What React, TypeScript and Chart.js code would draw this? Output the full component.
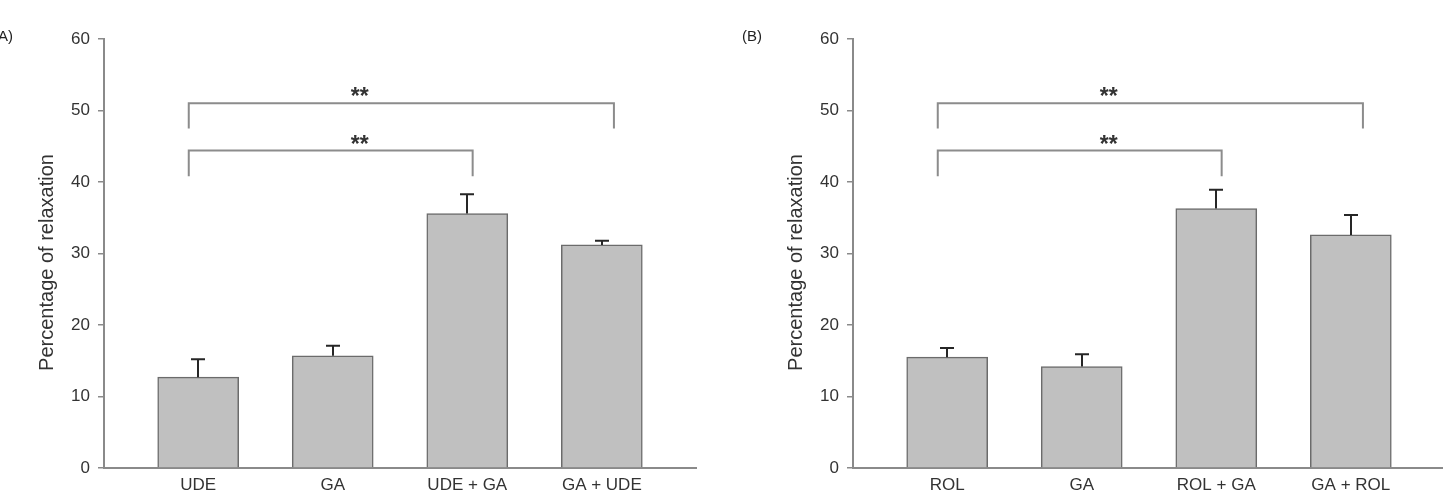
import React, { useEffect, useRef } from "react";
import { Chart, registerables } from "chart.js";

Chart.register(...registerables);

// Panel (A): umbilical-derived extract (UDE) and glycyrrhetinic acid (GA)
const labelsA = ["UDE", "GA", "UDE + GA", "GA + UDE"];
const meansA = [12.7, 15.7, 35.6, 31.2];
const semA = [2.5, 1.4, 2.7, 0.6];

// Panel (B): rolipram (ROL) and GA
const labelsB = ["ROL", "GA", "ROL + GA", "GA + ROL"];
const meansB = [15.5, 14.2, 36.3, 32.6];
const semB = [1.3, 1.7, 2.6, 2.8];

// Significance brackets, in x-axis units (category index) and y-axis values
const bracketFrom = [-0.07, -0.07];
const bracketTo = [3.09, 2.04];
const bracketLevel = [51.0, 44.4];
const bracketFoot = [47.5, 40.8];
const starLevel = [52.6, 46.0];
const starPos = [1.2, 1.2];
const starText = ["**", "**"];

const yMin = 0;
const yMax = 60;
const yStep = 10;
const yTitle = "Percentage of relaxation";

const FONT = "'Liberation Sans', Arial, sans-serif";
const W = 749;
const H = 496;

type PanelOpts = {
  means: number[];
  sem: number[];
  panel: string;
};

const overlayPlugin = {
  id: "overlay",
  afterDatasetsDraw(chart: any, _args: any, opts: PanelOpts) {
    const { ctx, chartArea } = chart;
    const xs = chart.scales.x;
    const ys = chart.scales.y;
    const meta = chart.getDatasetMeta(0);
    ctx.save();

    // error bars (upper half only)
    ctx.strokeStyle = "#262626";
    ctx.lineWidth = 2;
    meta.data.forEach((bar: any, i: number) => {
      const v = opts.means[i];
      const e = opts.sem[i];
      const px = Math.round(bar.x);
      const y0 = ys.getPixelForValue(v);
      const y1 = ys.getPixelForValue(v + e);
      ctx.beginPath();
      ctx.moveTo(px, y0);
      ctx.lineTo(px, y1);
      ctx.moveTo(px - 7, y1);
      ctx.lineTo(px + 7, y1);
      ctx.stroke();
    });

    // significance brackets
    ctx.strokeStyle = "#8c8c8c";
    ctx.lineWidth = 2;
    bracketFrom.forEach((from, i) => {
      const x0 = xs.getPixelForValue(from);
      const x1 = xs.getPixelForValue(bracketTo[i]);
      const yl = ys.getPixelForValue(bracketLevel[i]);
      const yf = ys.getPixelForValue(bracketFoot[i]);
      ctx.beginPath();
      ctx.moveTo(x0, yf);
      ctx.lineTo(x0, yl);
      ctx.lineTo(x1, yl);
      ctx.lineTo(x1, yf);
      ctx.stroke();
    });

    // significance marks
    ctx.fillStyle = "#333333";
    ctx.font = `bold 23px ${FONT}`;
    ctx.textAlign = "center";
    ctx.textBaseline = "alphabetic";
    starText.forEach((t, i) => {
      const m = ctx.measureText(t);
      const cy = ys.getPixelForValue(starLevel[i]);
      const base = cy + (m.actualBoundingBoxAscent - m.actualBoundingBoxDescent) / 2;
      ctx.fillText(t, xs.getPixelForValue(starPos[i]), base);
    });

    // y-axis title
    ctx.fillStyle = "#333333";
    ctx.font = `20px ${FONT}`;
    ctx.textAlign = "center";
    ctx.textBaseline = "middle";
    ctx.translate(chartArea.left - 57, (chartArea.top + chartArea.bottom) / 2 + 9);
    ctx.rotate(-Math.PI / 2);
    ctx.fillText(yTitle, 0, 0);
    ctx.setTransform(1, 0, 0, 1, 0, 0);

    // panel letter
    ctx.fillStyle = "#222222";
    ctx.font = `15px ${FONT}`;
    ctx.textAlign = "left";
    ctx.textBaseline = "middle";
    ctx.fillText(opts.panel, 13, 37);

    ctx.restore();
  },
};

function makeChart(
  canvas: HTMLCanvasElement,
  labels: string[],
  means: number[],
  sem: number[],
  panel: string
) {
  const yTickValues: number[] = [];
  for (let v = yMin; v <= yMax; v += yStep) yTickValues.push(v);

  return new Chart(canvas, {
    type: "bar",
    data: {
      datasets: [
        {
          data: means.map((v, i) => ({ x: i, y: v })),
          backgroundColor: "#c0c0c0",
          borderColor: "#6b6b6b",
          borderWidth: 1.5,
          barThickness: 81,
        },
      ],
    },
    options: {
      responsive: false,
      maintainAspectRatio: false,
      devicePixelRatio: 1,
      animation: false,
      layout: { padding: { left: 0, right: 33, top: 39, bottom: 0 } },
      plugins: {
        legend: { display: false },
        tooltip: { enabled: false },
        overlay: { means, sem, panel },
      } as any,
      scales: {
        x: {
          type: "linear",
          min: -0.7,
          max: 3.7,
          offset: false,
          afterFit: (s: any) => {
            s.height = 28;
          },
          afterBuildTicks: (s: any) => {
            s.ticks = labels.map((_, i) => ({ value: i }));
          },
          grid: { display: false, drawTicks: false },
          border: { display: true, color: "#8a8a8a", width: 2 },
          ticks: {
            autoSkip: false,
            maxRotation: 0,
            padding: 7,
            color: "#333333",
            font: { family: FONT, size: 17 },
            callback: (v: any) => labels[v] ?? "",
          },
        },
        y: {
          min: yMin,
          max: yMax,
          afterFit: (s: any) => {
            s.width = 124;
          },
          afterBuildTicks: (s: any) => {
            s.ticks = yTickValues.map((v) => ({ value: v }));
          },
          grid: {
            display: true,
            drawOnChartArea: false,
            drawTicks: true,
            tickLength: 6,
            color: "#8a8a8a",
            lineWidth: 1.5,
          },
          border: { display: true, color: "#8a8a8a", width: 2 },
          ticks: {
            padding: 8,
            color: "#333333",
            font: { family: FONT, size: 17 },
          },
        },
      },
    },
    plugins: [overlayPlugin],
  } as any);
}

function Panel(props: {
  left: number;
  labels: string[];
  means: number[];
  sem: number[];
  panel: string;
}) {
  const ref = useRef<HTMLCanvasElement | null>(null);
  useEffect(() => {
    if (!ref.current) return;
    const chart = makeChart(ref.current, props.labels, props.means, props.sem, props.panel);
    return () => chart.destroy();
  }, []);
  return (
    <canvas
      ref={ref}
      width={W}
      height={H}
      style={{ position: "absolute", left: props.left, top: 0, width: W, height: H }}
    />
  );
}

export default function App() {
  return (
    <div
      style={{
        position: "fixed",
        left: 0,
        top: 0,
        width: 1443,
        height: 496,
        overflow: "hidden",
        background: "#ffffff",
      }}
    >
      <Panel left={-20} labels={labelsA} means={meansA} sem={semA} panel="(A)" />
      <Panel left={729} labels={labelsB} means={meansB} sem={semB} panel="(B)" />
    </div>
  );
}
